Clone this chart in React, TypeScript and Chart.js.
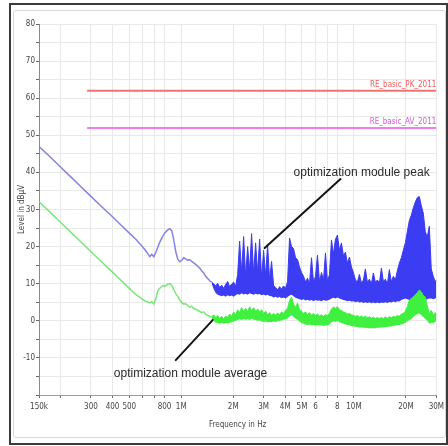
import { useEffect, useRef } from "react";
import { Chart, registerables } from "chart.js";

Chart.register(...registerables);

// Frequencies in MHz
const smoothFreq = [
  0.15, 0.1737, 0.1983, 0.2267, 0.259, 0.2957, 0.3378, 0.386, 0.441, 0.5037,
  0.5456, 0.5754, 0.6151, 0.6573, 0.675, 0.6932, 0.7119, 0.7311, 0.7509, 0.7818,
  0.8028, 0.8355, 0.858, 0.8811, 0.9049, 0.9293, 0.9544, 0.9801, 1.0066, 1.0337,
  1.0616, 1.0902, 1.1196, 1.1498, 1.1808, 1.2127, 1.2454, 1.279, 1.3136, 1.349,
  1.3854, 1.4228, 1.4612, 1.5006,
];
const peakSmooth = [
  47, 44.2, 41.6, 39, 36.4, 33.8, 31.2, 28.7, 26.1, 23.5,
  22.0, 20.8, 19.2, 17.3, 17.9, 17.3, 18.4, 19.8, 21.2, 22.8,
  23.7, 24.5, 24.8, 24.3, 21.8, 18.6, 16.6, 15.9, 16.3, 17.0,
  16.7, 16.3, 16.5, 16.0, 15.6, 15.2, 14.7, 14.2, 13.5, 12.9,
  12.0, 11.4, 10.8, 10.4,
];
const avgSmooth = [
  32.1, 29.3, 26.7, 24.1, 21.5, 18.9, 16.3, 13.8, 11.2, 8.6,
  7.1, 6.3, 5.4, 4.8, 5.2, 4.5, 5.9, 8.1, 8.8, 9.5,
  9.3, 9.9, 10.0, 9.6, 8.4, 7.3, 6.6, 5.6, 4.9, 4.5,
  4.6, 4.1, 3.7, 3.9, 3.3, 3.1, 2.8, 2.5, 2.2, 2.4,
  1.7, 1.5, 1.2, 1.0,
];

const denseFreq = [
  1.501, 1.541, 1.583, 1.625, 1.669, 1.714, 1.76, 1.808, 1.857, 1.907,
  1.958, 2.011, 2.065, 2.121, 2.178, 2.237, 2.297, 2.359, 2.423, 2.488,
  2.555, 2.624, 2.695, 2.768, 2.843, 2.919, 2.998, 3.079, 3.162, 3.247,
  3.335, 3.425, 3.517, 3.612, 3.709, 3.81, 3.912, 4.018, 4.126, 4.238,
  4.352, 4.469, 4.59, 4.714, 4.841, 4.971, 5.106, 5.243, 5.385, 5.53,
  5.679, 5.832, 5.99, 6.151, 6.317, 6.488, 6.663, 6.842, 7.027, 7.216,
  7.411, 7.611, 7.816, 8.027, 8.244, 8.466, 8.695, 8.929, 9.17, 9.417,
  9.672, 9.932, 10.2, 10.48, 10.76, 11.05, 11.35, 11.65, 11.97, 12.29,
  12.62, 12.96, 13.31, 13.67, 14.04, 14.42, 14.81, 15.21, 15.62, 16.04,
  16.47, 16.92, 17.37, 17.84, 18.32, 18.82, 19.32, 19.85, 20.38, 20.93,
  21.5, 22.08, 22.67, 23.28, 23.91, 24.56, 25.22, 25.9, 26.6, 27.32,
  28.05, 28.81, 29.59, 30.0,
];
const peakDense = [
  10.4, 10.0, 9.4, 10.1, 9.0, 9.6, 8.8, 9.8, 10.6, 9.2,
  9.9, 10.4, 9.3, 12.5, 21.5, 13.0, 22.7, 12.0, 20.0, 13.5,
  23.5, 12.5, 21.0, 13.0, 22.0, 11.5, 19.0, 12.0, 20.5, 11.0,
  16.0, 9.5, 9.0, 8.3, 9.2, 8.6, 9.4, 8.8, 10.5, 22.3,
  20.0, 19.5, 17.0, 16.5, 14.5, 13.0, 12.0, 10.5, 11.5, 10.0,
  17.0, 10.5, 12.0, 17.7, 10.5, 13.0, 11.0, 18.3, 10.5, 12.5,
  21.8, 18.0, 22.0, 23.1, 19.0, 21.0, 17.5, 18.5, 15.5, 17.2,
  14.5, 13.0, 11.0, 10.5, 12.5, 10.2, 11.0, 14.0, 10.3, 11.2,
  10.0, 12.9, 10.4, 11.0, 10.2, 14.2, 10.6, 11.2, 10.0, 13.8,
  10.5, 12.0, 11.0, 13.5, 15.5, 17.0, 19.0, 21.0, 24.0, 27.0,
  28.5, 30.5, 32.0, 33.2, 33.5, 31.0, 29.0, 24.0, 22.6, 25.5,
  14.0, 12.0, 10.5, 11.0,
];
const peakFloor = [
  10.0, 8.5, 7.5, 7.0, 6.8, 6.6, 6.8, 6.5, 6.9, 6.6,
  6.8, 6.5, 6.9, 7.2, 7.0, 7.4, 7.1, 7.3, 7.0, 7.4,
  7.2, 7.0, 7.3, 7.1, 7.2, 6.9, 7.1, 6.8, 7.0, 6.7,
  6.6, 6.3, 6.5, 6.2, 6.4, 6.1, 6.3, 6.0, 6.4, 6.8,
  7.0, 6.6, 6.2, 6.0, 5.8, 5.6, 5.8, 5.5, 5.7, 5.4,
  5.6, 5.3, 5.6, 5.4, 5.5, 5.3, 5.6, 5.4, 5.5, 5.7,
  6.0, 6.2, 6.0, 6.3, 6.0, 5.8, 5.6, 5.5, 5.3, 5.4,
  5.2, 5.3, 5.0, 5.2, 4.9, 5.1, 4.8, 5.0, 4.8, 5.0,
  4.7, 4.9, 4.7, 4.9, 4.7, 4.9, 4.8, 5.0, 4.8, 5.1,
  4.9, 5.2, 5.0, 5.3, 5.2, 5.6, 5.8, 6.0, 5.8, 5.6,
  5.5, 5.5, 5.5, 5.5, 5.5, 5.5, 5.5, 5.6, 5.8, 6.0,
  6.0, 5.8, 6.0, 6.2,
];
const avgDense = [
  1.0, 1.6, 0.8, 1.4, 0.6, 1.2, 0.5, 1.3, 0.9, 1.8,
  1.2, 2.4, 1.6, 3.0, 2.2, 3.6, 2.5, 3.4, 2.4, 3.8,
  2.8, 3.5, 2.6, 3.2, 2.4, 3.0, 2.0, 2.6, 1.6, 2.2,
  1.4, 2.0, 1.5, 2.1, 1.6, 2.4, 2.0, 2.8, 3.4, 5.5,
  6.4, 4.5, 3.6, 4.8, 3.0, 2.6, 2.0, 2.4, 1.6, 2.2,
  1.5, 2.0, 1.4, 1.8, 1.3, 1.6, 1.2, 1.7, 1.4, 2.0,
  3.2, 3.7, 3.4, 3.8, 3.0, 2.8, 2.4, 2.2, 1.8, 2.0,
  1.6, 1.5, 1.2, 1.4, 1.0, 1.3, 0.9, 1.2, 0.8, 1.1,
  0.7, 1.0, 0.6, 0.9, 0.6, 0.9, 0.6, 1.0, 0.7, 1.1,
  0.8, 1.2, 1.0, 1.4, 1.2, 1.8, 2.0, 2.6, 3.8, 5.6,
  6.0, 6.5, 7.0, 7.6, 8.3, 7.8, 6.8, 6.4, 4.0, 2.0,
  2.8, 1.5, 2.2, 1.5,
];
const avgFloor = [
  0.6, 0.0, -0.5, -0.6, -0.8, -0.6, -0.8, -0.6, -0.7, -0.5,
  -0.4, -0.2, 0.0, 0.2, 0.4, 0.2, 0.5, 0.3, 0.4, 0.2,
  0.6, 0.3, 0.2, 0.0, 0.1, -0.2, -0.3, -0.2, -0.4, -0.3,
  -0.4, -0.2, -0.3, -0.1, 0.0, 0.1, 0.3, 0.4, 0.6, 1.2,
  1.5, 1.0, 0.6, 0.3, -0.2, -0.6, -0.8, -1.0, -1.2, -1.0,
  -1.2, -1.1, -1.3, -1.2, -1.3, -1.2, -1.4, -1.3, -1.2, -1.0,
  -0.4, -0.2, -0.3, 0.0, -0.4, -0.6, -0.8, -1.0, -1.1, -1.2,
  -1.4, -1.5, -1.6, -1.7, -1.8, -1.8, -1.9, -1.9, -2.0, -2.0,
  -2.0, -2.0, -2.0, -1.9, -1.9, -1.8, -1.8, -1.7, -1.6, -1.6,
  -1.5, -1.4, -1.3, -1.2, -1.1, -1.0, -0.8, -0.5, -0.2, 0.2,
  0.5, 1.0, 1.4, 1.8, 2.0, 1.5, 1.0, 0.5, 0.0, -0.8,
  -0.5, -0.6, -0.3, 0.0,
];

// Limit lines
const limitFreq = [0.285, 30];
const limitPK = [62, 62];
const limitAV = [52, 52];
const limitNames = ["RE_basic_PK_2011", "RE_basic_AV_2011"];

// Axis ticks (Hz)
const xTickValues = [
  150e3, 200e3, 300e3, 400e3, 500e3, 600e3, 700e3, 800e3, 1e6, 2e6,
  3e6, 4e6, 5e6, 6e6, 7e6, 8e6, 10e6, 20e6, 30e6,
];
const xTickLabels = [
  "150k", "", "300", "400", "500", "", "", "800", "1M", "2M",
  "3M", "4M", "5M", "6", "", "8", "10M", "20M", "30M",
];

// Annotations (MHz, dBµV)
const noteTexts = ["optimization module peak", "optimization module average"];
const noteFreq = [4.47, 0.407];
const noteLevel = [39.8, -14.3];
const arrowFromFreq = [8.36, 1.52];
const arrowFromLevel = [38.2, 0.2];
const arrowToFreq = [3.04, 0.929];
const arrowToLevel = [19.6, -10.6];

const axisFont = '"Liberation Sans Narrow", "DejaVu Sans Condensed", "Liberation Sans", Arial, sans-serif';
const noteFont = '"Liberation Sans", Arial, sans-serif';

const pts = (f: number[], v: number[]) => f.map((m, i) => ({ x: m * 1e6, y: v[i] }));

const notesPlugin = {
  id: "notes",
  afterDatasetsDraw(chart: any) {
    const { ctx, scales } = chart;
    const x = scales.x;
    const y = scales.y;
    ctx.save();
    ctx.strokeStyle = "#151515";
    ctx.lineWidth = 2;
    ctx.lineCap = "round";
    for (let i = 0; i < noteTexts.length; i++) {
      ctx.beginPath();
      ctx.moveTo(x.getPixelForValue(arrowFromFreq[i] * 1e6), y.getPixelForValue(arrowFromLevel[i]));
      ctx.lineTo(x.getPixelForValue(arrowToFreq[i] * 1e6), y.getPixelForValue(arrowToLevel[i]));
      ctx.stroke();
    }
    ctx.fillStyle = "#2a2a2a";
    ctx.font = "12px " + noteFont;
    ctx.textAlign = "left";
    ctx.textBaseline = "middle";
    for (let i = 0; i < noteTexts.length; i++) {
      ctx.fillText(noteTexts[i], x.getPixelForValue(noteFreq[i] * 1e6), y.getPixelForValue(noteLevel[i]));
    }
    ctx.font = "8px " + axisFont;
    ctx.textAlign = "right";
    ctx.textBaseline = "bottom";
    const xr = x.getPixelForValue(limitFreq[limitFreq.length - 1] * 1e6);
    ctx.fillStyle = "#ee5c5c";
    ctx.fillText(limitNames[0], xr, y.getPixelForValue(limitPK[1]) - 2);
    ctx.fillStyle = "#d858e0";
    ctx.fillText(limitNames[1], xr, y.getPixelForValue(limitAV[1]) - 2);
    ctx.restore();
  },
};

export default function App() {
  const ref = useRef<HTMLCanvasElement | null>(null);

  useEffect(() => {
    if (!ref.current) return;
    const line = { pointRadius: 0, tension: 0, pointHitRadius: 0 };
    const chart = new Chart(ref.current, {
      type: "line",
      data: {
        datasets: [
          { ...line, label: "avgDense", data: pts(denseFreq, avgDense), borderColor: "#3ff03f", backgroundColor: "#3ff03f", borderWidth: 1, fill: "+1", order: 0 },
          { ...line, label: "avgFloor", data: pts(denseFreq, avgFloor), borderColor: "rgba(0,0,0,0)", borderWidth: 0, fill: false, order: 1 },
          { ...line, label: "avgSmooth", data: pts(smoothFreq, avgSmooth), borderColor: "rgba(90,225,90,0.8)", borderWidth: 1.5, fill: false, order: 2 },
          { ...line, label: "peakDense", data: pts(denseFreq, peakDense), borderColor: "#3c3cf2", backgroundColor: "#3c3cf2", borderWidth: 1, fill: "+1", order: 3 },
          { ...line, label: "peakFloor", data: pts(denseFreq, peakFloor), borderColor: "rgba(0,0,0,0)", borderWidth: 0, fill: false, order: 4 },
          { ...line, label: "peakSmooth", data: pts(smoothFreq, peakSmooth), borderColor: "rgba(110,110,225,0.85)", borderWidth: 1.5, fill: false, order: 5 },
          { ...line, label: limitNames[0], data: pts(limitFreq, limitPK), borderColor: "#f27272", borderWidth: 2, fill: false, order: 6 },
          { ...line, label: limitNames[1], data: pts(limitFreq, limitAV), borderColor: "#f07cf0", borderWidth: 2, fill: false, order: 7 },
        ],
      },
      options: {
        animation: false,
        responsive: false,
        devicePixelRatio: 1,
        layout: { padding: { left: 0, top: 24, right: 11, bottom: 0 } },
        plugins: {
          legend: { display: false },
          tooltip: { enabled: false },
        },
        events: [],
        scales: {
          x: {
            type: "logarithmic",
            min: 150e3,
            max: 30e6,
            afterBuildTicks: (s: any) => {
              s.ticks = xTickValues.map((v) => ({ value: v }));
            },
            afterFit: (s: any) => {
              s.height = 51;
            },
            ticks: {
              autoSkip: false,
              maxRotation: 0,
              padding: 4,
              color: "#444",
              font: { size: 8, family: axisFont },
              callback: (v: any) => {
                const i = xTickValues.indexOf(Number(v));
                return i >= 0 ? xTickLabels[i] : "";
              },
            },
            grid: { color: "#e9e9e9", tickLength: 3, tickColor: "#666" },
            border: { color: "#9a9a9a", width: 1 },
            title: {
              display: true,
              text: "Frequency in Hz",
              color: "#444",
              font: { size: 8, family: axisFont },
              padding: { top: 0, bottom: 16 },
            },
          },
          y: {
            type: "linear",
            min: -20,
            max: 80,
            afterFit: (s: any) => {
              s.width = 39;
            },
            ticks: {
              stepSize: 5,
              padding: 1,
              color: "#444",
              font: { size: 8, family: axisFont },
              callback: (v: any) => (Number(v) % 10 === 0 && Number(v) > -20 ? String(v) : ""),
            },
            grid: { color: "#e9e9e9", tickLength: 3, tickColor: "#666" },
            border: { color: "#8a8a8a", width: 1 },
            title: {
              display: true,
              text: "Level in dBµV",
              color: "#444",
              font: { size: 8, family: axisFont },
              padding: { top: 17, bottom: 0 },
            },
          },
        },
      },
      plugins: [notesPlugin],
    } as any);
    return () => chart.destroy();
  }, []);

  return (
    <div style={{ position: "absolute", left: 0, top: 0, width: 448, height: 446, background: "#fff" }}>
      <div
        style={{
          position: "absolute",
          left: 9,
          top: 3,
          width: 439,
          height: 442,
          border: "2px solid #3a3a3a",
          boxSizing: "border-box",
        }}
      />
      <div
        style={{
          position: "absolute",
          left: 13,
          top: 10,
          width: 433,
          height: 428,
          border: "1px solid #d6d6d6",
          borderRadius: 3,
          boxSizing: "border-box",
        }}
      />
      <canvas ref={ref} width={448} height={446} style={{ position: "absolute", left: 0, top: 0, width: 448, height: 446 }} />
    </div>
  );
}
